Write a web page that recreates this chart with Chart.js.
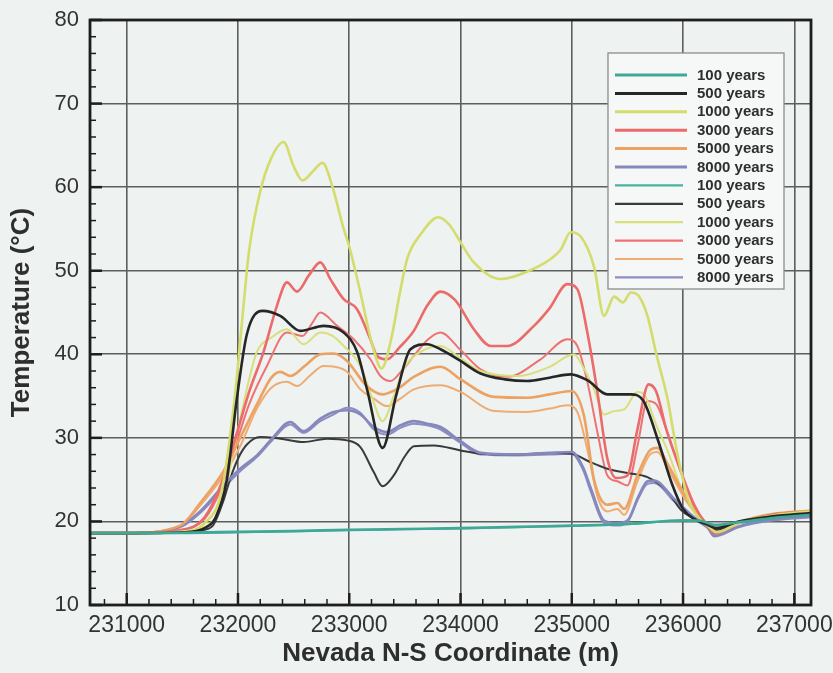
<!DOCTYPE html>
<html>
<head>
<meta charset="utf-8">
<script src="https://cdn.jsdelivr.net/npm/chart.js@4.4.1/dist/chart.umd.min.js"></script>
<style>
html, body { margin: 0; padding: 0; background: #eef2f1; }
</style>
</head>
<body>
<canvas id="myChart" width="833" height="673"></canvas>
<script>
// axis ranges and tick labels
var xMin = 230670, xMax = 237150;
var xTicks = [231000, 232000, 233000, 234000, 235000, 236000, 237000];
var yTicks = [10, 20, 30, 40, 50, 60, 70, 80];

var seriesLabels = ['100 years', '500 years', '1000 years', '3000 years', '5000 years', '8000 years',
                    '100 years', '500 years', '1000 years', '3000 years', '5000 years', '8000 years'];

// [x (m), temperature (C)]
var yr100a = [[230670,18.6],[231000,18.6],[231500,18.65],[232000,18.75],[232500,18.85],[233000,19.0],[233500,19.1],
  [234000,19.2],[234500,19.35],[235000,19.5],[235500,19.7],[236000,20.15],[236150,20.1],[236280,19.6],[236500,19.9],
  [236800,20.4],[237150,20.8]];
var yr500a = [[230670,18.6],[231000,18.6],[231500,18.7],[231700,19.2],[231800,20.5],[231900,25],[231990,34.7],[232080,42.4],
  [232220,45.2],[232380,44.6],[232560,42.8],[232770,43.4],[232950,42.6],[233070,40.3],[233160,35.8],[233300,28.8],
  [233420,35],[233550,40.6],[233700,41.2],[233820,40.6],[234000,39.2],[234180,37.7],[234400,37.0],[234600,36.8],
  [234800,37.2],[234990,37.6],[235140,36.9],[235320,35.2],[235530,35.2],[235640,34.5],[235780,29.5],[235900,24.5],
  [236000,21.5],[236100,20.3],[236220,19.6],[236300,19.2],[236500,20.0],[236800,20.6],[237150,21.0]];
var yr1000a = [[230670,18.6],[231000,18.6],[231500,18.8],[231700,19.8],[231850,23.5],[231970,34.7],[232030,43],
  [232100,52.4],[232200,59.5],[232300,63.5],[232410,65.4],[232500,62.5],[232580,60.8],[232680,62],[232760,62.9],
  [232850,60],[232950,55],[233000,52.9],[233100,47.4],[233200,41.5],[233290,38.3],[233380,42],[233450,47],
  [233520,51.4],[233650,54.5],[233800,56.4],[233900,55.5],[234000,53.4],[234120,51],[234360,49.0],[234600,49.9],
  [234810,51.4],[234900,52.5],[234990,54.6],[235080,54.1],[235200,50.5],[235290,44.6],[235380,46.9],[235460,46.2],
  [235530,47.4],[235600,47.0],[235680,44.6],[235760,40],[235860,34.7],[235950,28],[236050,22.5],[236150,20.3],
  [236220,19.5],[236300,18.7],[236500,19.8],[236800,20.7],[237150,21.2]];
var yr3000a = [[230670,18.6],[231000,18.6],[231500,19.0],[231700,20.5],[231850,24.5],[232000,31],[232100,35.5],
  [232230,40.3],[232350,45.8],[232440,48.6],[232530,47.5],[232640,49.5],[232740,51.0],[232830,49],[232950,46.6],
  [233070,45.4],[233190,41.8],[233250,39.8],[233340,39.4],[233450,40.8],[233580,42.8],[233700,45.8],[233820,47.5],
  [233950,46.5],[234120,43.0],[234270,41.0],[234420,41.0],[234660,43.4],[234800,45.5],[234960,48.4],[235050,47.8],
  [235140,42.6],[235230,35.5],[235320,27.5],[235400,25.2],[235500,25.5],[235590,31],[235690,36.4],[235760,35.5],
  [235850,31],[235980,26],[236100,22],[236200,19.8],[236290,18.6],[236500,19.8],[236800,20.8],[237150,21.2]];
var yr5000a = [[230670,18.6],[231000,18.6],[231480,19.5],[231660,22.2],[231870,26],[232020,30],[232170,34],
  [232300,37.2],[232380,37.9],[232470,37.4],[232600,38.6],[232740,40.0],[232860,40.1],[232980,39.2],[233150,36.3],
  [233300,35.2],[233450,36],[233580,37.3],[233820,38.5],[234000,37.0],[234300,34.9],[234600,34.8],[234800,35.2],
  [235000,35.6],[235110,32.6],[235200,25],[235320,22],[235410,22.2],[235470,21.5],[235590,25.5],[235710,28.6],
  [235770,28.8],[235860,26.9],[236040,22.6],[236250,19.2],[236300,18.6],[236500,19.9],[236800,20.9],[237150,21.3]];
var yr8000a = [[230670,18.6],[231000,18.6],[231480,19.4],[231660,21.2],[231870,24.3],[232020,26.3],[232170,27.9],
  [232300,29.8],[232470,31.9],[232590,30.8],[232740,32.3],[232860,33.1],[232980,33.3],[233100,32.8],[233220,31.3],
  [233340,30.7],[233460,31.5],[233580,32.0],[233700,31.7],[233820,31.3],[234000,29.6],[234180,28.2],[234500,28.0],
  [234800,28.2],[235000,28.3],[235100,26.5],[235170,24],[235290,20.1],[235410,19.8],[235500,20.1],[235600,23],
  [235680,24.8],[235740,24.9],[235920,22.7],[236100,20.5],[236220,19.4],[236280,18.3],[236500,19.4],[236800,20.2],
  [237150,20.6]];

var yr100b = [[230670,18.6],[231000,18.6],[231500,18.6],[232000,18.7],[232500,18.8],[233000,18.95],[233500,19.05],
  [234000,19.15],[234500,19.3],[235000,19.45],[235500,19.65],[236000,20.1],[236150,20.0],[236280,19.5],[236500,19.8],
  [236800,20.3],[237150,20.7]];
var yr500b = [[230670,18.6],[231000,18.6],[231500,18.7],[231700,19.0],[231780,19.6],[231870,22.5],[231930,25.1],
  [232000,27.5],[232080,29.2],[232200,30.1],[232380,29.9],[232590,29.5],[232800,29.9],[232980,29.7],[233100,28.9],
  [233220,25.9],[233300,24.2],[233400,25.5],[233500,27.8],[233580,29.0],[233760,29.1],[234000,28.5],[234180,28.1],
  [234500,28.0],[234800,28.2],[235000,28.1],[235150,27.2],[235320,26.3],[235500,25.8],[235680,25.3],[235860,23.6],
  [235980,21.4],[236100,20.3],[236220,19.5],[236300,19.0],[236500,19.9],[236800,20.5],[237150,21.0]];
var yr1000b = [[230670,18.6],[231000,18.6],[231500,18.8],[231700,19.3],[231850,22],[232000,31],[232100,37],
  [232170,40.3],[232300,42],[232440,43.0],[232590,41.2],[232740,42.6],[232850,42.2],[232950,41.0],[233100,38.6],
  [233200,35],[233300,32.0],[233400,35],[233500,38.5],[233640,40.3],[233820,41.0],[234000,39.5],[234180,38.0],
  [234520,37.4],[234800,38.5],[235020,40.0],[235100,38.5],[235200,35.8],[235290,32.8],[235380,33.2],[235470,33.4],
  [235590,35.5],[235650,35.2],[235760,31.5],[235860,28.5],[236000,23.5],[236100,21.5],[236220,19.5],[236300,18.7],
  [236500,19.8],[236800,20.8],[237150,21.2]];
var yr3000b = [[230670,18.6],[231000,18.6],[231500,19.0],[231700,20.3],[231850,24],[232000,30],[232100,34],
  [232260,38.6],[232440,42.6],[232580,42.2],[232670,43.8],[232740,45.0],[232890,43.4],[233040,41.8],[233190,39.4],
  [233280,37.4],[233370,36.8],[233470,38],[233580,39.8],[233710,41.8],[233820,42.6],[234000,40.5],[234180,38.2],
  [234420,37.3],[234720,39.4],[234960,41.8],[235050,41.0],[235140,36.7],[235230,30.7],[235320,25.5],[235410,24.8],
  [235500,24.3],[235590,29.0],[235680,34.4],[235760,34.0],[235850,31],[235980,26.0],[236100,21.8],[236200,19.8],
  [236290,18.5],[236500,19.8],[236800,20.8],[237150,21.2]];
var yr5000b = [[230670,18.6],[231000,18.6],[231480,19.4],[231660,21.9],[231870,25.5],[232020,29],[232170,33.5],
  [232300,36],[232440,36.7],[232530,36.2],[232650,37.5],[232770,38.6],[232870,38.5],[232980,37.9],[233100,35.8],
  [233220,34.7],[233340,33.8],[233460,34.7],[233580,35.8],[233820,36.3],[234000,35.5],[234300,33.2],[234600,33.1],
  [234800,33.5],[234960,33.9],[235050,33.1],[235150,28],[235230,23],[235320,21.2],[235410,21.5],[235470,20.8],
  [235590,24.8],[235710,28.1],[235770,28.3],[235860,26.4],[236040,22.2],[236250,19.0],[236300,18.5],[236500,19.8],
  [236800,20.8],[237150,21.2]];
var yr8000b = [[230670,18.6],[231000,18.6],[231480,19.3],[231660,21.0],[231870,24.0],[232020,26.0],[232170,27.7],
  [232300,29.6],[232470,31.6],[232590,30.6],[232740,32.0],[232860,32.8],[232980,33.6],[233100,33.0],[233220,31.0],
  [233340,30.4],[233460,31.2],[233580,31.7],[233700,31.5],[233820,31.0],[234000,29.4],[234180,28.0],[234500,27.9],
  [234800,28.0],[235000,28.1],[235100,26.2],[235170,23.6],[235290,19.8],[235410,19.5],[235500,19.9],[235600,22.8],
  [235680,24.5],[235740,24.6],[235920,22.4],[236100,20.3],[236220,19.2],[236280,18.2],[236500,19.3],[236800,20.1],
  [237150,20.5]];

var seriesData = [yr100a, yr500a, yr1000a, yr3000a, yr5000a, yr8000a,
                  yr100b, yr500b, yr1000b, yr3000b, yr5000b, yr8000b];
var colors = ['#3fa897', '#262626', '#d4dc6c', '#ec6a6a', '#eca263', '#8587bd',
              '#4cb0a0', '#3a3a3a', '#d8df7c', '#ee7272', '#efac72', '#8d8fc2'];
var widths = [2.6, 2.6, 2.6, 2.6, 2.6, 2.6, 2, 2, 2, 2, 2, 2];

var font = "'Liberation Sans', Arial, Helvetica, sans-serif";

// background, frame, inward ticks, legend
var framePlugin = {
  id: 'frame',
  beforeDraw: function(chart) {
    var c = chart.ctx;
    c.save();
    c.fillStyle = '#eef2f1';
    c.fillRect(0, 0, chart.width, chart.height);
    c.restore();
  },
  afterDatasetsDraw: function(chart) {
    var c = chart.ctx, a = chart.chartArea;
    var xs = chart.scales.x, ys = chart.scales.y;
    c.save();
    c.strokeStyle = '#1e1e1e';
    // x ticks
    for (var v = 230800; v <= xMax; v += 200) {
      var px = xs.getPixelForValue(v);
      var major = v % 1000 === 0;
      c.lineWidth = major ? 2.5 : 1.5;
      c.beginPath();
      c.moveTo(px, a.bottom);
      c.lineTo(px, a.bottom - (major ? 12 : 6));
      c.stroke();
    }
    // y ticks
    for (var t = 10; t <= 80; t += 2) {
      var py = ys.getPixelForValue(t);
      var maj = t % 10 === 0;
      c.lineWidth = maj ? 2.5 : 1.5;
      c.beginPath();
      c.moveTo(a.left, py);
      c.lineTo(a.left + (maj ? 12 : 6), py);
      c.stroke();
    }
    c.lineWidth = 2.8;
    c.strokeRect(a.left, a.top, a.right - a.left, a.bottom - a.top);

    // legend box
    var bx = 608, by = 53, bw = 176, bh = 236;
    c.fillStyle = '#f6f8f7';
    c.fillRect(bx, by, bw, bh);
    c.strokeStyle = '#8c8c8c';
    c.lineWidth = 1.3;
    c.strokeRect(bx, by, bw, bh);
    c.font = 'bold 15px ' + font;
    c.textBaseline = 'middle';
    c.textAlign = 'left';
    chart.data.datasets.forEach(function(ds, i) {
      var ly = 75 + i * 18.4;
      c.strokeStyle = ds.borderColor;
      c.lineWidth = i < 6 ? 3 : 2.2;
      c.beginPath();
      c.moveTo(615, ly);
      c.lineTo(i < 6 ? 687 : 683, ly);
      c.stroke();
      c.fillStyle = '#2e2e2e';
      c.fillText(ds.label, 697, ly + 0.5);
    });
    c.restore();
  }
};

var ctx = document.getElementById('myChart').getContext('2d');
var myChart = new Chart(ctx, {
  type: 'line',
  data: {
    datasets: seriesData.map(function(pts, i) {
      return {
        label: seriesLabels[i],
        data: pts.map(function(p) { return { x: p[0], y: p[1] }; }),
        borderColor: colors[i],
        borderWidth: widths[i],
        fill: false
      };
    })
  },
  options: {
    responsive: false,
    animation: false,
    layout: { padding: { top: 20, right: 22, left: 0, bottom: 0 } },
    elements: {
      point: { radius: 0 },
      line: { cubicInterpolationMode: 'monotone', borderCapStyle: 'round', borderJoinStyle: 'round' }
    },
    plugins: { legend: { display: false }, tooltip: { enabled: false } },
    scales: {
      x: {
        type: 'linear',
        min: xMin,
        max: xMax,
        afterBuildTicks: function(axis) { axis.ticks = xTicks.map(function(v) { return { value: v }; }); },
        afterFit: function(axis) {
          axis.height = 68;
          axis.paddingLeft = 0;
          axis.paddingRight = 0;
        },
        grid: { color: '#5e5e5e', lineWidth: 1.6, drawTicks: false },
        border: { display: false },
        ticks: {
          padding: 7, maxRotation: 0, autoSkip: false, color: '#333',
          font: { family: font, size: 23 },
          callback: function(v) { return String(v); }
        },
        title: {
          display: true, text: 'Nevada N-S Coordinate (m)', color: '#2e2e2e',
          font: { family: font, size: 26, weight: 'bold' },
          padding: { top: 0, bottom: 4 }
        }
      },
      y: {
        min: 10,
        max: 80,
        afterBuildTicks: function(axis) { axis.ticks = yTicks.map(function(v) { return { value: v }; }); },
        afterFit: function(axis) {
          axis.width = 90;
          axis.paddingTop = 0;
          axis.paddingBottom = 0;
        },
        grid: { color: '#5e5e5e', lineWidth: 1.6, drawTicks: false },
        border: { display: false },
        ticks: { padding: 11, color: '#333', font: { family: font, size: 22 } },
        title: {
          display: true, text: 'Temperature (°C)', color: '#2e2e2e',
          font: { family: font, size: 26, weight: 'bold' },
          padding: { top: 6, bottom: 2 }
        }
      }
    }
  },
  plugins: [framePlugin]
});
</script>
</body>
</html>
